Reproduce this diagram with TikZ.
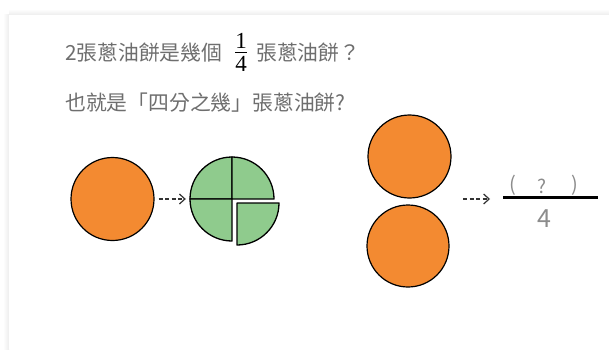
\documentclass[tikz,border=0pt]{standalone}
\usepackage{fontspec}
\newfontfamily\cjk{Noto Sans CJK TC}
\newfontfamily\numserif{Liberation Serif}
\usetikzlibrary{arrows.meta}
\definecolor{txtgray}{HTML}{6E6E6E}
\definecolor{ltgray}{HTML}{8C8C8C}
\definecolor{cakeorange}{HTML}{F38A31}
\definecolor{cakegreen}{HTML}{8FCB8D}
\definecolor{arrowgray}{HTML}{333333}
\tikzset{
  cake/.style={circle, draw=black, line width=1.2pt, fill=cakeorange, inner sep=0pt, minimum size=#1},
  quarter/.style={draw=black, line width=1.3pt, fill=cakegreen, line join=round},
  dasharrow/.style={draw=arrowgray, line width=1.2pt, dash pattern=on 4pt off 2.5pt, -{Straight Barb[length=5.5pt, width=10pt, line width=1.2pt]}},
  cjktext/.style={font=\cjk\fontsize{20.8}{24}\selectfont, text=txtgray, inner sep=0pt},
  fracnum/.style={font=\numserif\fontsize{23}{26}\selectfont, text=black, inner sep=0pt},
}
\begin{document}
\begin{tikzpicture}[x=1pt, y=1pt]
\useasboundingbox (0,0) rectangle (609,349);
\fill[white] (0,0) rectangle (609,349);
% card shadow
\shade[top color=white, bottom color=black!7] (9,334) rectangle (609,340);
\shade[left color=white, right color=black!7] (3,0) rectangle (9,334);
\fill[white] (9,0) rectangle (609,334);

% texts
\node[cjktext, anchor=base west] (t1a) at (65,289) {2張蔥油餅是幾個};
\node[fracnum] (fn) at (241,308.5) {1};
\node[fracnum] (fd) at (241,285) {4};
\draw[black, line width=0.6pt] ([xshift=-6pt]fn.south |- 0,297) -- ([xshift=6pt]fn.south |- 0,297);
\node[cjktext, anchor=base west] (t1b) at (256,289) {張蔥油餅？};
\node[cjktext, anchor=base west] (t2) at (65,239) {也就是「四分之幾」張蔥油餅?};

% left: one cake -> four quarters
\node[cake=83pt] (o1) at (112.5,150) {};
\node[circle, inner sep=0pt, minimum size=84pt] (g) at (232,150) {};
\path[quarter] (g.center) -- ++(-42,0) arc[start angle=180, end angle=90, radius=42] -- cycle;
\path[quarter] (g.center) -- ++(0,42) arc[start angle=90, end angle=0, radius=42] -- cycle;
\path[quarter] (g.center) -- ++(-42,0) arc[start angle=180, end angle=270, radius=42] -- cycle;
\path[quarter] ([shift={(5,-4)}]g.center) -- ++(42,0) arc[start angle=0, end angle=-90, radius=42] -- cycle;
\draw[dasharrow, shorten <=4pt, shorten >=4pt] (o1.east) -- (g.west);

% right: two cakes -> ?/4
\node[cake=83pt] (o2) at (409.5,192.5) {};
\node[cake=82pt] (o3) at (408,103) {};
\coordinate (a2s) at (463,150);
\coordinate (a2e) at (490,150);
\draw[dasharrow] (a2s) -- (a2e);
\coordinate (fl) at (503,151.5);
\coordinate (fr) at (598,151.5);
\draw[black, line width=2.4pt] (fl) -- (fr);
\node[font=\cjk\fontsize{20}{22}\selectfont, text=ltgray, inner sep=0pt] (lp) at (512.5,163.5) {(};
\node[font=\cjk\fontsize{19}{22}\selectfont, text=ltgray, inner sep=0pt] (qm) at (542,162.5) {?};
\node[font=\cjk\fontsize{20}{22}\selectfont, text=ltgray, inner sep=0pt] (rp) at (574.5,163.5) {)};
\node[font=\cjk\fontsize{25}{28}\selectfont, text=ltgray, inner sep=0pt] (den) at (544.5,130) {4};
\end{tikzpicture}
\end{document}
